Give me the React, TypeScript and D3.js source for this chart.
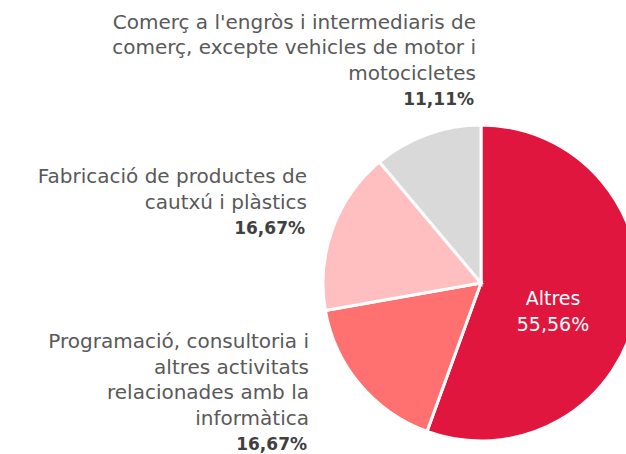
import React, { useRef, useEffect } from "react";
import * as d3 from "d3";

// Chart data
const categories = [
  "Altres",
  "Programació, consultoria i altres activitats relacionades amb la informàtica",
  "Fabricació de productes de cautxú i plàstics",
  "Comerç a l'engròs i intermediaris de comerç, excepte vehicles de motor i motocicletes",
];
const values = [55.56, 16.67, 16.67, 11.11];
const pctLabels = ["55,56%", "16,67%", "16,67%", "11,11%"];
// wrapped label text, as in the picture
const labelLines = [
  ["Altres"],
  ["Programació, consultoria i", "altres activitats", "relacionades amb la", "informàtica"],
  ["Fabricació de productes de", "cautxú i plàstics"],
  ["Comerç a l'engròs i intermediaris de", "comerç, excepte vehicles de motor i", "motocicletes"],
];
const colors = ["#E0163E", "#FF7070", "#FFBFC1", "#D9D9D9"];

const App = () => {
  const ref = useRef<SVGSVGElement>(null);

  useEffect(() => {
    const svg = d3.select(ref.current);
    svg.selectAll("*").remove();

    const width = 626;
    const height = 454;
    const cx = 481;
    const cy = 283;
    const radius = 158;
    const fontFamily = "'DejaVu Sans', sans-serif";
    const fontSize = 20;
    const lineH = 25.5;

    svg.attr("width", width).attr("height", height);

    const pieGen = d3.pie<number>().sort(null).value((d) => d);
    const arcs = pieGen(values);
    const arcGen = d3.arc<d3.PieArcDatum<number>>().innerRadius(0).outerRadius(radius);

    const g = svg.append("g").attr("transform", `translate(${cx},${cy})`);

    g.selectAll("path")
      .data(arcs)
      .enter()
      .append("path")
      .attr("d", arcGen)
      .attr("fill", (d, i) => colors[i])
      .attr("stroke", "white")
      .style("stroke-width", "3px")
      .append("title")
      .text((d, i) => categories[i]);

    // Inside label for the big slice
    const c = d3.arc<d3.PieArcDatum<number>>().innerRadius(radius * 0.45).outerRadius(radius * 0.45).centroid(arcs[0]);
    const inside = g.append("text")
      .attr("text-anchor", "middle")
      .attr("font-family", fontFamily)
      .attr("font-size", 19)
      .attr("fill", "white");
    inside.append("tspan").attr("x", c[0] + 2).attr("y", c[1] + 10).text(labelLines[0][0]);
    inside.append("tspan").attr("x", c[0] + 2).attr("y", c[1] + 10 + 26).text(pctLabels[0]);

    // Outside labels: right edge x and first baseline y
    const outside = [
      null,
      { x: 309, y: 348 },
      { x: 307, y: 183 },
      { x: 476, y: 28.5 },
    ];

    outside.forEach((pos, i) => {
      if (!pos) return;
      const t = svg.append("text")
        .attr("text-anchor", "end")
        .attr("font-family", fontFamily)
        .attr("font-size", fontSize);
      labelLines[i].forEach((line, k) => {
        t.append("tspan")
          .attr("x", pos.x)
          .attr("y", pos.y + k * lineH)
          .attr("fill", "#595959")
          .text(line);
      });
      t.append("tspan")
        .attr("x", pos.x - 2)
        .attr("y", pos.y + labelLines[i].length * lineH)
        .attr("fill", "#404040")
        .attr("font-weight", "bold")
        .attr("font-size", 17)
        .text(pctLabels[i]);
    });
  }, []);

  return (
    <div style={{ position: "absolute", left: 0, top: 0, width: 626, height: 454, overflow: "hidden", background: "white" }}>
      <svg ref={ref} style={{ display: "block" }}></svg>
    </div>
  );
};

export default App;
